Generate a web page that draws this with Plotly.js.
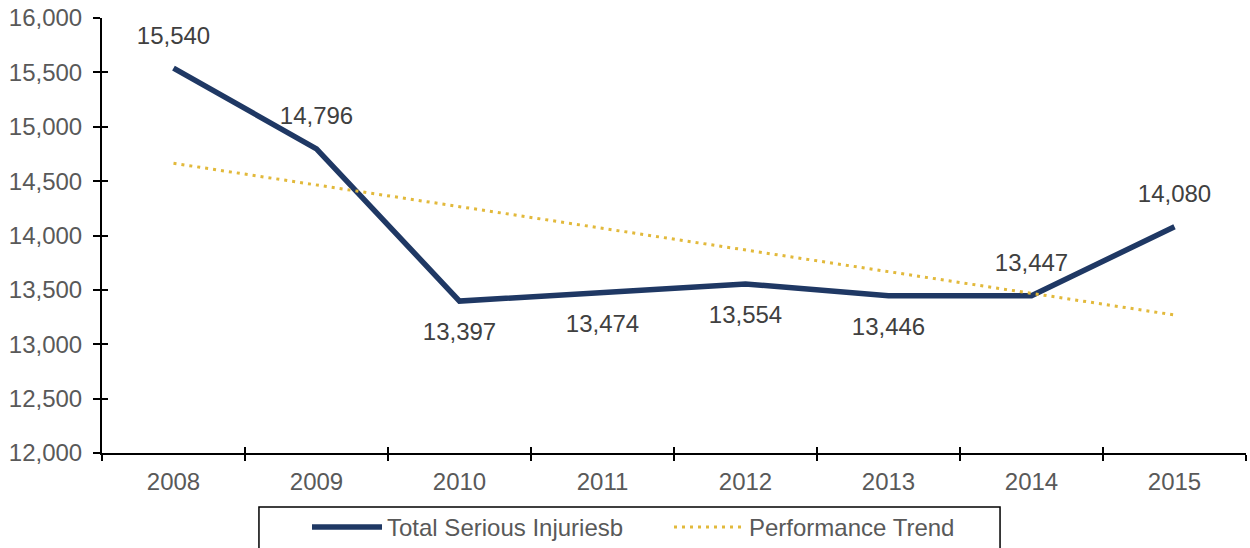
<!DOCTYPE html>
<html><head><meta charset="utf-8">
<script src="https://cdn.plot.ly/plotly-3.0.1.min.js"></script>
<style>html,body{margin:0;padding:0;background:#fff}#chart{width:1250px;height:548px}</style>
</head><body><div id="chart"></div>
<script>
const years = ['2008','2009','2010','2011','2012','2013','2014','2015'];
const injuries = [15540,14796,13397,13474,13554,13446,13447,14080];
const trend = [14664,14465,14266,14067,13867,13668,13469,13269];
const labelAbove = [true,true,false,false,false,false,true,true];
const yTicks = [12000,12500,13000,13500,14000,14500,15000,15500,16000];

const FONT = 'Liberation Sans, Arial, sans-serif';
const TXT = '#595959';
const fmt = v => v.toLocaleString('en-US');

const upIdx = years.map((y, i) => i).filter(i => labelAbove[i]);
const dnIdx = years.map((y, i) => i).filter(i => !labelAbove[i]);

const traces = [
  {x: years, y: injuries, type: 'scatter', mode: 'lines', name: 'Total Serious Injuriesb',
   line: {color: '#1F3864', width: 5.5}},
  {x: years, y: trend, type: 'scatter', mode: 'lines', name: 'Performance Trend',
   line: {color: '#E2B93B', width: 3, dash: '3px,5px'}},
  {x: upIdx.map(i => years[i]), y: upIdx.map(i => injuries[i]), text: upIdx.map(i => fmt(injuries[i])),
   type: 'scatter', mode: 'markers+text', textposition: 'top center', showlegend: false, hoverinfo: 'skip',
   marker: {size: 28, color: 'rgba(0,0,0,0)'}, textfont: {family: FONT, size: 24, color: '#404040'}},
  {x: dnIdx.map(i => years[i]), y: dnIdx.map(i => injuries[i]), text: dnIdx.map(i => fmt(injuries[i])),
   type: 'scatter', mode: 'markers+text', textposition: 'bottom center', showlegend: false, hoverinfo: 'skip',
   marker: {size: 32, color: 'rgba(0,0,0,0)'}, textfont: {family: FONT, size: 24, color: '#404040'}},
  {x: years, y: injuries, type: 'scatter', mode: 'none', xaxis: 'x2', yaxis: 'y2', showlegend: false, hoverinfo: 'skip'}
];

const layout = {
  width: 1250, height: 548,
  margin: {l: 102, r: 4, t: 18, b: 95, autoexpand: false},
  paper_bgcolor: '#fff', plot_bgcolor: '#fff',
  font: {family: FONT, size: 24, color: TXT},
  showlegend: true,
  legend: {orientation: 'h', x: 0.1792, xanchor: 'left', y: -0.1195, yanchor: 'top',
           borderwidth: 0, bgcolor: 'rgba(0,0,0,0)', font: {family: FONT, size: 24, color: TXT},
           entrywidth: 277, itemwidth: 70, traceorder: 'normal'},
  shapes: [{type: 'rect', xref: 'paper', yref: 'paper', x0: 0.1372, x1: 0.785, y0: -0.1241, y1: -0.35,
            line: {color: '#000', width: 1.5}, fillcolor: 'rgba(0,0,0,0)'}],
  xaxis: {type: 'category', tickson: 'boundaries', ticks: 'outside', ticklen: 6, tickwidth: 2, tickcolor: '#000',
          showline: true, linecolor: '#000', linewidth: 2, showgrid: false, zeroline: false,
          range: [-0.5, 7.5], ticklabelstandoff: 6},
  yaxis: {range: [12000, 16000], tickvals: yTicks, tickformat: ',d', ticks: 'outside', ticklen: 7, tickwidth: 2,
          tickcolor: '#000', showline: true, linecolor: '#000', linewidth: 2, showgrid: false, zeroline: false,
          ticklabelstandoff: 6},
  xaxis2: {type: 'category', overlaying: 'x', tickson: 'boundaries', ticks: 'inside', ticklen: 6, tickwidth: 2,
           tickcolor: '#000', showticklabels: false, showline: false, showgrid: false, zeroline: false,
           range: [-0.5, 7.5], anchor: 'y2'},
  yaxis2: {overlaying: 'y', range: [12000, 16000], tickvals: yTicks, ticks: 'inside', ticklen: 6, tickwidth: 2,
           tickcolor: '#000', showticklabels: false, showline: false, showgrid: false, zeroline: false, anchor: 'x2'}
};

Plotly.newPlot('chart', traces, layout, {displayModeBar: false, staticPlot: true});
</script></body></html>
